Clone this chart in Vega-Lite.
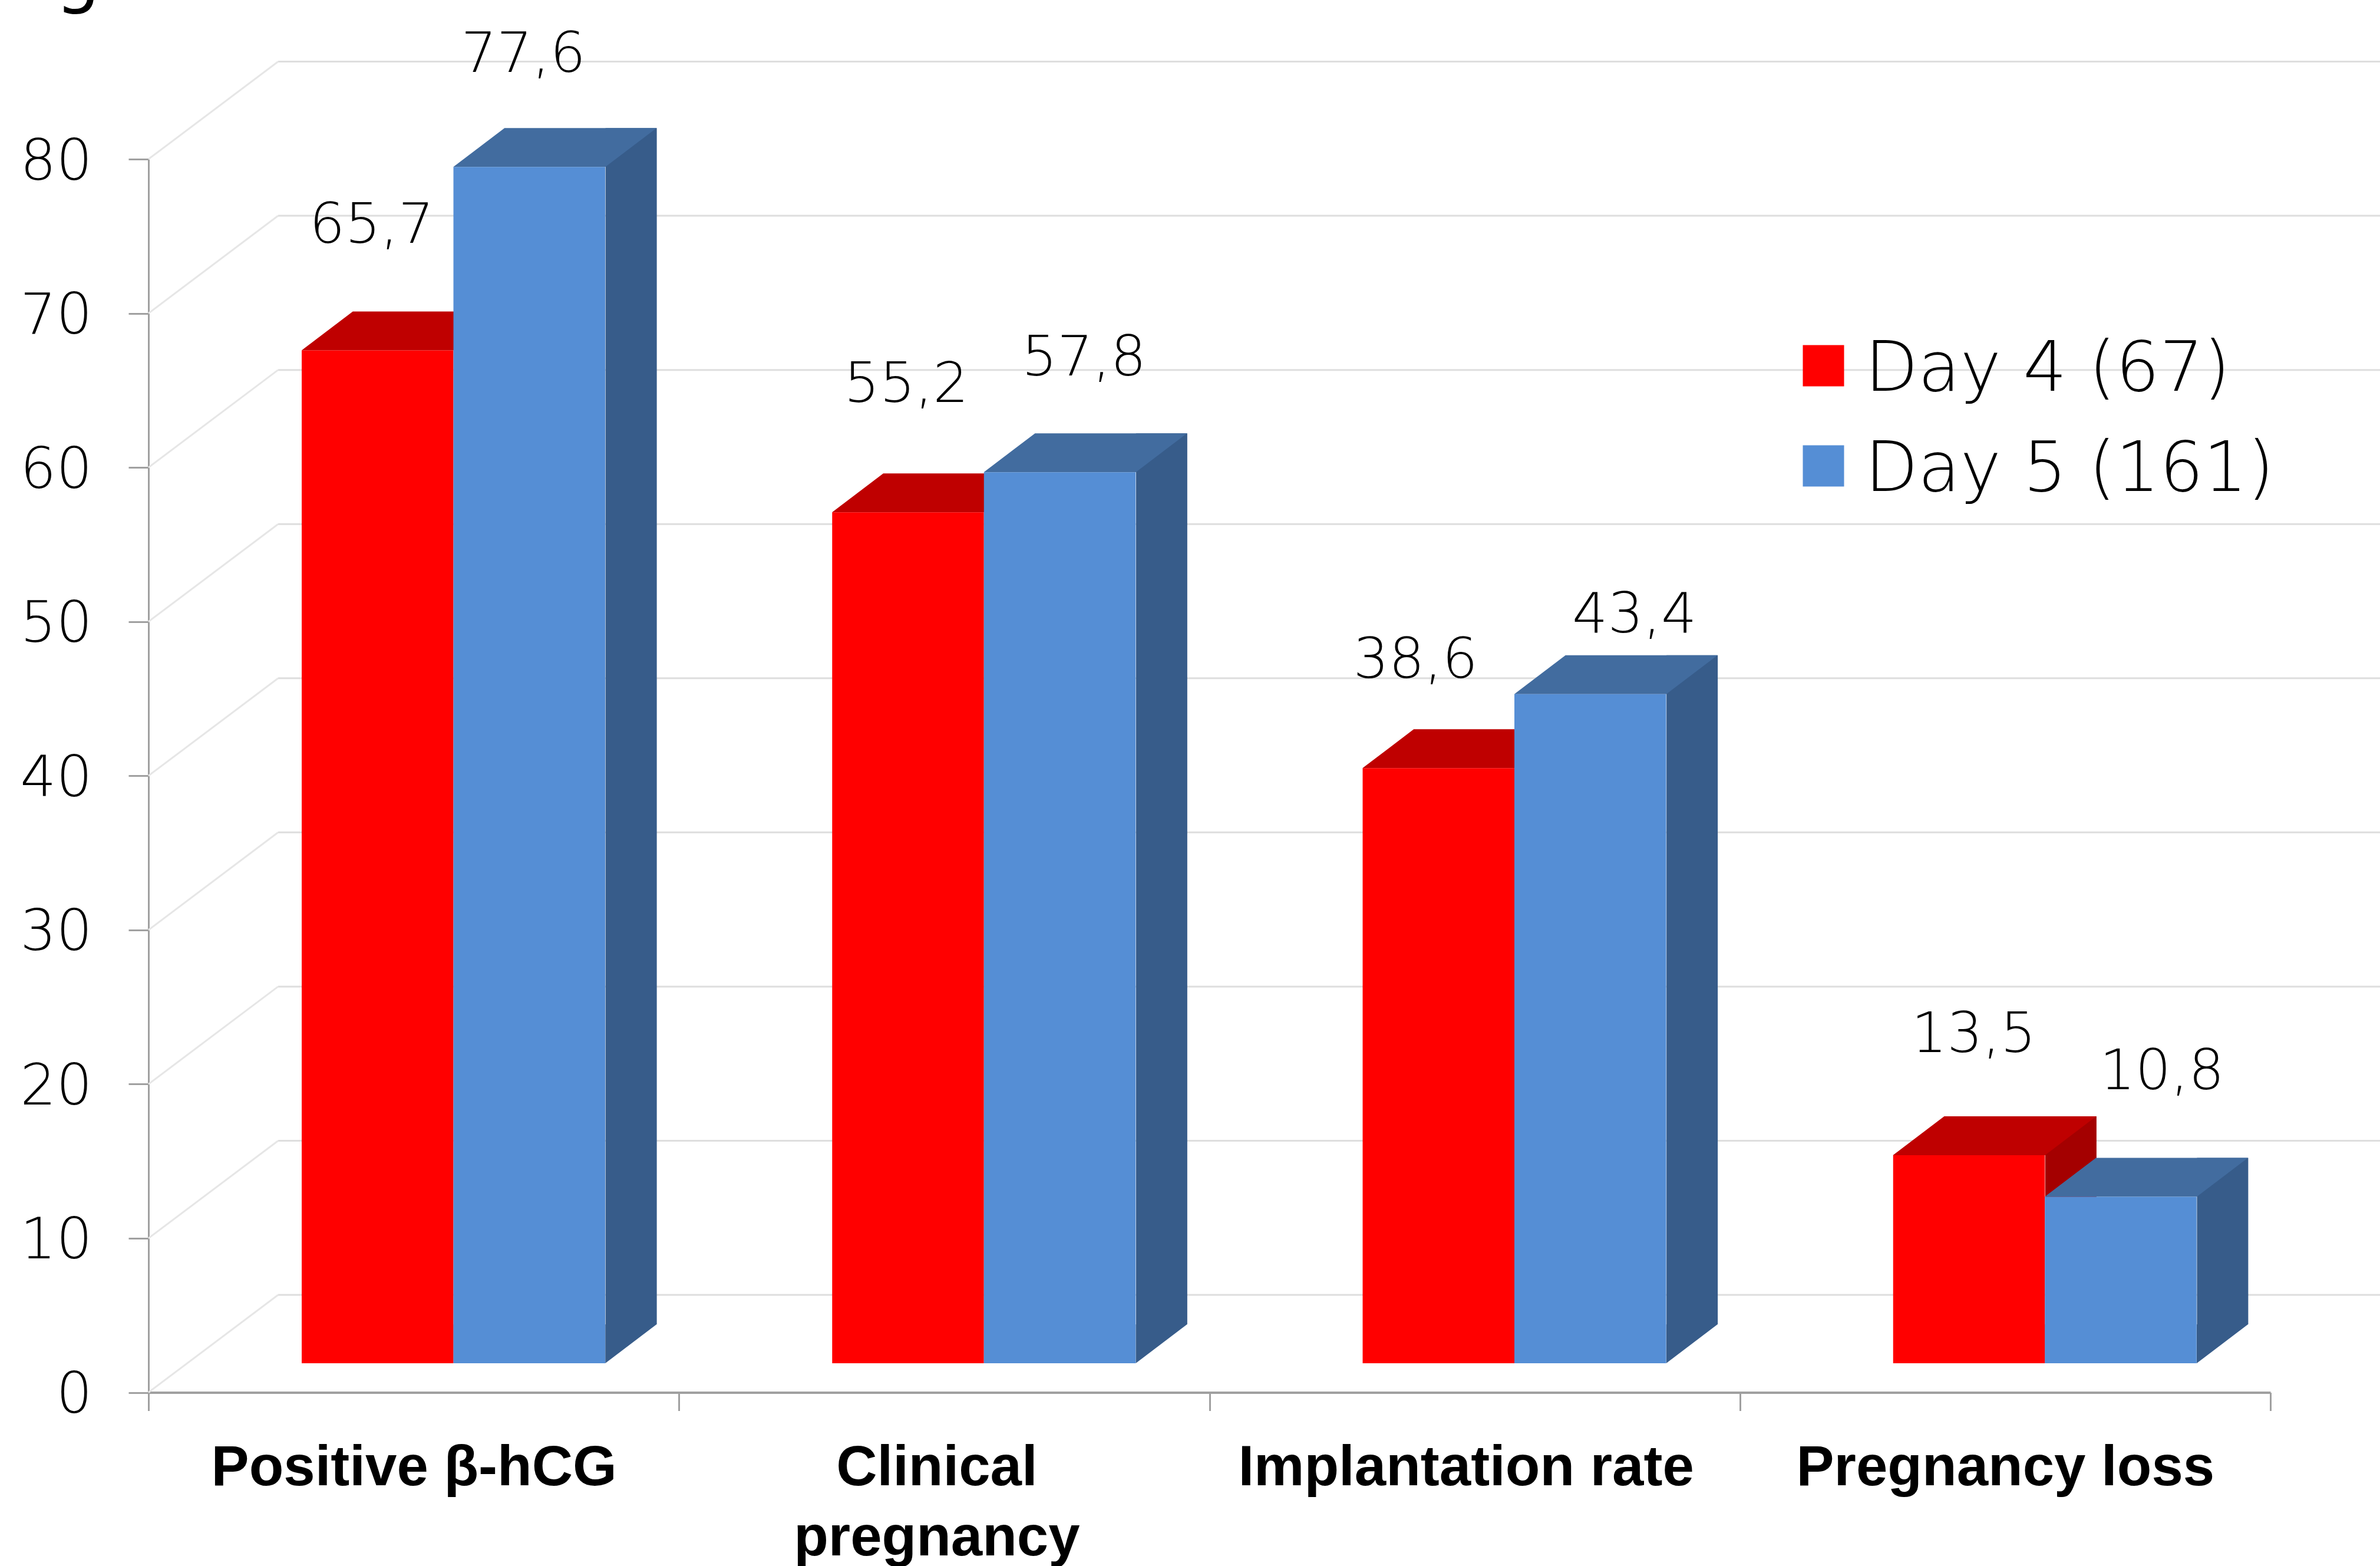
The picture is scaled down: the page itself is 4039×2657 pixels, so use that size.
{
"$schema":"https://vega.github.io/schema/vega-lite/v6.json",
"autosize":"none","width":3787,"height":2092.5,
"padding":{"left":252,"top":270,"right":0,"bottom":294.5},
"background":"white",
"config":{"view":{"stroke":null}},
"datasets":{
"bars":[
{"measure":"Positive β-hCG","series":"Day 4 (67)","value":65.7,"label":"65,7"},
{"measure":"Positive β-hCG","series":"Day 5 (161)","value":77.6,"label":"77,6"},
{"measure":"Clinical pregnancy","series":"Day 4 (67)","value":55.2,"label":"55,2"},
{"measure":"Clinical pregnancy","series":"Day 5 (161)","value":57.8,"label":"57,8"},
{"measure":"Implantation rate","series":"Day 4 (67)","value":38.6,"label":"38,6"},
{"measure":"Implantation rate","series":"Day 5 (161)","value":43.4,"label":"43,4"},
{"measure":"Pregnancy loss","series":"Day 4 (67)","value":13.5,"label":"13,5"},
{"measure":"Pregnancy loss","series":"Day 5 (161)","value":10.8,"label":"10,8"}],
"ticks":[{"tick":0},{"tick":10},{"tick":20},{"tick":30},{"tick":40},{"tick":50},{"tick":60},{"tick":70},{"tick":80}]
},
"layer":[
{"data":{"name":"ticks"},
 "mark":{"type":"point","shape":"M220,-165.5L3900,-165.5","filled":false,"stroke":"#DEDEDE","strokeWidth":3,"size":4,"opacity":1},
 "encoding":{"y":{"field":"tick","type":"quantitative","scale":{"domain":[0,80],"range":[2092.5,0],"nice":false},
   "axis":{"title":null,"values":[0,10,20,30,40,50,60,70,80],"grid":false,"domainColor":"#A0A0A0","domainWidth":3,"tickColor":"#A0A0A0","tickWidth":3,"tickSize":34,"labelFont":"DejaVu Sans","labelFontWeight":200,"labelFontSize":96,"labelColor":"#000000","labelPadding":62,"labelOffset":5}},
  "x":{"datum":"Positive β-hCG","type":"nominal","bandPosition":0}}},
{"data":{"name":"ticks"},
 "mark":{"type":"point","shape":"M0,0L220,-165.5","filled":false,"stroke":"#E6E6E6","strokeWidth":3,"size":4,"opacity":1},
 "encoding":{"y":{"field":"tick","type":"quantitative"},
  "x":{"datum":"Positive β-hCG","type":"nominal","bandPosition":0}}},
{"data":{"values":[{"glyph":"g"}]},
 "mark":{"type":"text","font":"DejaVu Sans","fontSize":120,"color":"#000000","baseline":"alphabetic","align":"center","xOffset":-120,"yOffset":-271},
 "encoding":{"text":{"field":"glyph"},"y":{"datum":80,"type":"quantitative"},
  "x":{"datum":"Positive β-hCG","type":"nominal","bandPosition":0}}},
{"data":{"name":"bars"},
 "encoding":{
  "x":{"field":"measure","type":"nominal","sort":null,
   "scale":{"domain":["Positive β-hCG","Clinical pregnancy","Implantation rate","Pregnancy loss"],"range":[0,3601],"paddingInner":0,"paddingOuter":0},
   "axis":{"title":null,"orient":"bottom","labelAngle":0,"labelAlign":"center","labelOverlap":false,"labelLimit":0,"tickBand":"extent","domainColor":"#A0A0A0","domainWidth":4,"tickColor":"#A0A0A0","tickWidth":3,"tickSize":31,"labelFont":"Liberation Sans","labelFontWeight":"bold","labelFontSize":96,"labelColor":"#000000","labelPadding":50,"labelLineHeight":119,"labelBaseline":"top",
    "labelExpr":"datum.label=='Clinical pregnancy'?['Clinical','pregnancy']:datum.label",
    "labelOffset":{"expr":"datum.value=='Clinical pregnancy'?-13:datum.value=='Implantation rate'?-15:0"}}},
  "xOffset":{"field":"series","type":"nominal","scale":{"domain":["Day 4 (67)","Day 5 (161)"],"range":[260,775],"paddingInner":0,"paddingOuter":0}},
  "y":{"field":"value","type":"quantitative"}
 },
 "layer":[
 {"transform":[{"filter":"datum.series=='Day 4 (67)'"}],
  "mark":{"type":"bar","fill":"#A40000","width":87,"xOffset":111.5,"yOffset":-115.5,"y2Offset":-115.5},
  "encoding":{"y2":{"datum":0},"xOffset":null}},
 {"transform":[{"filter":"datum.series=='Day 4 (67)'"}],
  "mark":{"type":"point","shape":"M129,0L216,-66L129,-66Z","filled":true,"fill":"#A40000","strokeWidth":0,"size":4,"opacity":1,"yOffset":-49.5},
  "encoding":{"y":{"datum":0,"type":"quantitative"}}},
 {"transform":[{"filter":"datum.series=='Day 4 (67)'"}],
  "mark":{"type":"point","shape":"M-129,0L-42,-66L216,-66L129,0Z","filled":true,"fill":"#BF0000","strokeWidth":0,"size":4,"opacity":1,"yOffset":-49.5}},
 {"transform":[{"filter":"datum.series=='Day 5 (161)'"}],
  "mark":{"type":"bar","fill":"#375C8A","width":87,"xOffset":369,"yOffset":-115.5,"y2Offset":-115.5},
  "encoding":{"y2":{"datum":0},"xOffset":null}},
 {"transform":[{"filter":"datum.series=='Day 5 (161)'"}],
  "mark":{"type":"point","shape":"M129,0L216,-66L129,-66Z","filled":true,"fill":"#375C8A","strokeWidth":0,"size":4,"opacity":1,"yOffset":-49.5},
  "encoding":{"y":{"datum":0,"type":"quantitative"}}},
 {"transform":[{"filter":"datum.series=='Day 5 (161)'"}],
  "mark":{"type":"point","shape":"M-129,0L-42,-66L216,-66L129,0Z","filled":true,"fill":"#426C9F","strokeWidth":0,"size":4,"opacity":1,"yOffset":-49.5}},
 {"mark":{"type":"bar","yOffset":-49.5,"y2Offset":-49.5},
  "encoding":{"y2":{"datum":0},
   "color":{"field":"series","type":"nominal","scale":{"domain":["Day 4 (67)","Day 5 (161)"],"range":["#FF0000","#558ED5"]},
    "legend":{"title":null,"orient":"none","legendX":2784,"legendY":292,"symbolType":"square","symbolSize":4900,"symbolStrokeWidth":0,"labelFont":"DejaVu Sans","labelFontWeight":200,"labelFontSize":117,"labelColor":"#000000","labelOffset":12,"rowPadding":46,"labelLimit":0,
     "encode":{"labels":{"update":{"dy":{"value":7}}}}}}}},
 {"transform":[{"filter":"datum.label=='65,7'"}],"mark":{"type":"text","font":"DejaVu Sans","fontWeight":200,"fontSize":95,"color":"#000000","baseline":"middle","dx":-10,"yOffset":-261},"encoding":{"text":{"field":"label"}}},
 {"transform":[{"filter":"datum.label=='77,6'"}],"mark":{"type":"text","font":"DejaVu Sans","fontWeight":200,"fontSize":95,"color":"#000000","baseline":"middle","dx":-10,"yOffset":-240},"encoding":{"text":{"field":"label"}}},
 {"transform":[{"filter":"datum.label=='55,2'"}],"mark":{"type":"text","font":"DejaVu Sans","fontWeight":200,"fontSize":95,"color":"#000000","baseline":"middle","dx":-3,"yOffset":-266},"encoding":{"text":{"field":"label"}}},
 {"transform":[{"filter":"datum.label=='57,8'"}],"mark":{"type":"text","font":"DejaVu Sans","fontWeight":200,"fontSize":95,"color":"#000000","baseline":"middle","dx":41,"yOffset":-243},"encoding":{"text":{"field":"label"}}},
 {"transform":[{"filter":"datum.label=='38,6'"}],"mark":{"type":"text","font":"DejaVu Sans","fontWeight":200,"fontSize":95,"color":"#000000","baseline":"middle","dx":-39,"yOffset":-232},"encoding":{"text":{"field":"label"}}},
 {"transform":[{"filter":"datum.label=='43,4'"}],"mark":{"type":"text","font":"DejaVu Sans","fontWeight":200,"fontSize":95,"color":"#000000","baseline":"middle","dx":75,"yOffset":-183.5},"encoding":{"text":{"field":"label"}}},
 {"transform":[{"filter":"datum.label=='13,5'"}],"mark":{"type":"text","font":"DejaVu Sans","fontWeight":200,"fontSize":95,"color":"#000000","baseline":"middle","dx":8,"yOffset":-253},"encoding":{"text":{"field":"label"}}},
 {"transform":[{"filter":"datum.label=='10,8'"}],"mark":{"type":"text","font":"DejaVu Sans","fontWeight":200,"fontSize":95,"color":"#000000","baseline":"middle","dx":70,"yOffset":-261},"encoding":{"text":{"field":"label"}}}
 ]}
]}
